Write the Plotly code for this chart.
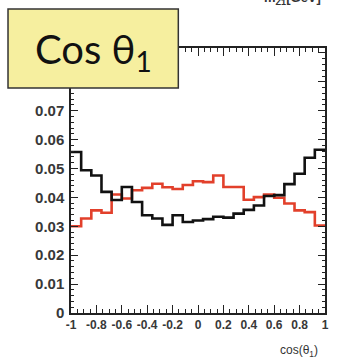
import numpy as np
import plotly.graph_objects as go

# Histogram binning on cos(theta_1)
x_min, x_max, n_bins = -1.0, 1.0, 25

# Normalised bin contents
black_vals = [0.0557, 0.0494, 0.0476, 0.0419, 0.0391, 0.0436, 0.0384, 0.0338,
              0.0327, 0.0305, 0.0338, 0.0315, 0.0320, 0.0325, 0.0333, 0.0330,
              0.0344, 0.0357, 0.0372, 0.0405, 0.0408, 0.0446, 0.0482, 0.0537,
              0.0565]
red_vals = [0.0300, 0.0327, 0.0355, 0.0347, 0.0410, 0.0396, 0.0425, 0.0433,
            0.0447, 0.0435, 0.0429, 0.0443, 0.0456, 0.0453, 0.0476, 0.0436,
            0.0436, 0.0392, 0.0401, 0.0410, 0.0399, 0.0379, 0.0355, 0.0349,
            0.0303]

x_tick_vals = [-1, -0.8, -0.6, -0.4, -0.2, 0, 0.2, 0.4, 0.6, 0.8, 1]
x_tick_text = ["-1", "-0.8", "-0.6", "-0.4", "-0.2", "0", "0.2", "0.4", "0.6", "0.8", "1"]
y_tick_vals = [0, 0.01, 0.02, 0.03, 0.04, 0.05, 0.06, 0.07, 0.08, 0.09]
y_tick_text = ["0", "0.01", "0.02", "0.03", "0.04", "0.05", "0.06", "0.07", "", ""]

edges = np.linspace(x_min, x_max, n_bins + 1)


def step_trace(vals, color):
    return go.Scatter(
        x=edges, y=list(vals) + [vals[-1]],
        mode="lines", line=dict(color=color, width=2.6, shape="hv"),
        showlegend=False, hoverinfo="skip",
    )


fig = go.Figure()
fig.add_trace(step_trace(red_vals, "#e2402b"))
fig.add_trace(step_trace(black_vals, "#111111"))

axis_common = dict(
    showgrid=False, zeroline=False, showline=True, linecolor="#222",
    linewidth=1.5, mirror="allticks", ticks="inside", tickcolor="#222",
    tickwidth=1.2,
)

fig.update_xaxes(
    range=[x_min, x_max], tickvals=x_tick_vals, ticktext=x_tick_text,
    ticklen=8, tickangle=0,
    tickfont=dict(family="Liberation Sans", size=12, color="#383838",
                  weight="bold"),
    minor=dict(dtick=0.05, tick0=-1, ticks="inside", ticklen=4,
               tickcolor="#222", tickwidth=1.2),
    **axis_common,
)
fig.update_yaxes(
    range=[0, 0.0917], tickvals=y_tick_vals, ticktext=y_tick_text, ticklen=7,
    tickfont=dict(family="Liberation Sans", size=15, color="#383838",
                  weight="bold"),
    minor=dict(dtick=0.002, tick0=0, ticks="inside", ticklen=3.5,
               tickcolor="#222", tickwidth=1.2),
    ticklabelstandoff=2,
    **axis_common,
)

# Title box over the top-left corner
fig.add_shape(type="rect", xref="paper", yref="paper",
              x0=-0.248, x1=0.4225, y0=0.849, y1=1.147,
              fillcolor="#f6ef9f", line=dict(color="#333", width=1.5),
              layer="above")
fig.add_annotation(text="Cos θ<sub>1</sub>", xref="paper", yref="paper",
                   x=0.0872, y=0.985, xanchor="center", yanchor="middle",
                   showarrow=False,
                   font=dict(family="Lato", size=40, color="#111"))

# Axis title and upper label
fig.add_annotation(text="cos(θ<sub>1</sub>)", xref="paper", yref="paper",
                   x=0.899, y=-0.143, xanchor="center", yanchor="middle",
                   showarrow=False,
                   font=dict(family="Liberation Sans", size=12, color="#333"))
fig.add_annotation(text="m<sub>Z1</sub>[GeV]", xref="paper", yref="paper",
                   x=0.872, y=1.147, xanchor="center", yanchor="bottom",
                   showarrow=False,
                   font=dict(family="Liberation Sans", size=13, color="#333",
                             weight="bold"))

fig.update_layout(
    width=340, height=362,
    margin=dict(l=71, r=11, t=48, b=49),
    paper_bgcolor="white", plot_bgcolor="white",
)

fig.write_html("out.html")
